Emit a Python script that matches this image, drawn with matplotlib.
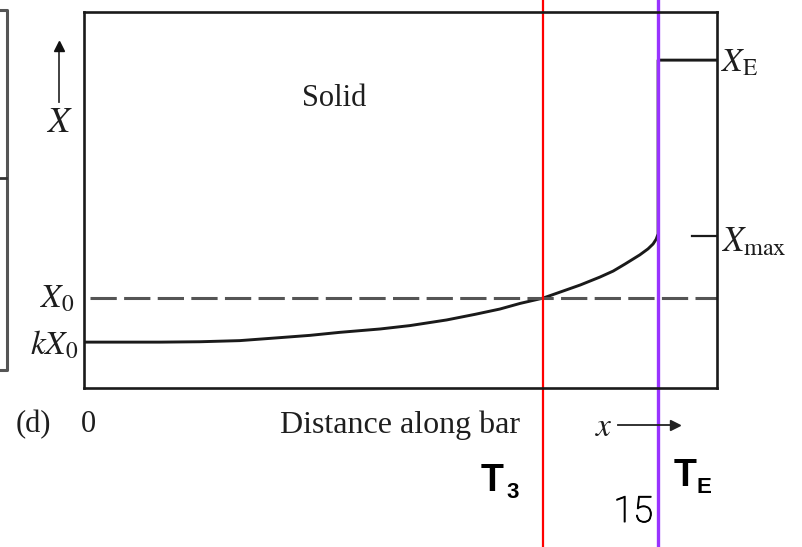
import matplotlib
matplotlib.use("Agg")
import matplotlib.pyplot as plt
from matplotlib.lines import Line2D
import matplotlib.patheffects as pe

plt.rcParams['mathtext.fontset'] = 'stix'

# composition of the solid along the bar (fraction of bar length, relative X)
dist = [0.0, 0.057, 0.120, 0.183, 0.246, 0.310, 0.357, 0.404, 0.468, 0.515,
        0.573, 0.618, 0.657, 0.689, 0.725, 0.752, 0.784, 0.815, 0.836, 0.855,
        0.878, 0.891, 0.899, 0.904, 0.907]
solid_x = [0.122, 0.122, 0.122, 0.123, 0.126, 0.134, 0.140, 0.148, 0.157, 0.166,
           0.181, 0.196, 0.210, 0.225, 0.239, 0.255, 0.274, 0.295, 0.311, 0.330,
           0.354, 0.370, 0.383, 0.396, 0.410]
x_eut = 0.872      # eutectic composition X_E
x0 = 0.239         # initial liquid composition X_0
x_max = 0.405
t3_pos = 0.725
te_pos = 0.907

W, H = 803, 547
fig = plt.figure(figsize=(W / 100, H / 100), dpi=100)
ax = fig.add_axes([84 / W, 1 - 388 / H, (717 - 84) / W, (388 - 12) / H])
ax.set_xlim(0, 1)
ax.set_ylim(0, 1)
ax.set_xticks([])
ax.set_yticks([])
for s in ax.spines.values():
    s.set_linewidth(1.9)
    s.set_color('#1a1a1a')

ink = '#1a1a1a'
ax.plot(dist + [dist[-1], 1.0], solid_x + [x_eut, x_eut], color=ink, lw=2.1,
        solid_joinstyle='round')
ax.plot([0.01, 1.0], [x0, x0], color='#555555', lw=2.2, ls=(0, (8.6, 2.4)))
ax.plot([0.96, 1.0], [x_max, x_max], color=ink, lw=1.6)

# T3 and TE markers through the whole figure
ax.axvline(t3_pos, ymin=-0.5, ymax=1.1, color='#ff0000', lw=1.6, clip_on=False)
ax.axvline(te_pos, ymin=-0.5, ymax=1.1, color='#9933ff', lw=2.4, clip_on=False)


def fx(x):
    return x / W


def fy(y):
    return 1 - y / H


tc = '#1e1e1e'
serif = dict(family='Liberation Serif', color=tc)
ax.text(0.395, 0.77, 'Solid', transform=ax.transAxes, fontsize=22,
        ha='center', va='center', **serif)

fig.text(fx(74), fy(298), r'$X_0$', fontsize=24, ha='right', va='center', color=tc)
fig.text(fx(78), fy(345), r'$kX_0$', fontsize=24, ha='right', va='center', color=tc)
fig.text(fx(721), fy(62), r'$X_{\rm E}$', fontsize=24, ha='left', va='center', color=tc)
fig.text(fx(721), fy(241), r'$X_{\rm max}$', fontsize=25, ha='left', va='center', color=tc)
fig.text(fx(59), fy(122), r'$X$', fontsize=26, ha='center', va='center', color=tc)
fig.add_artist(Line2D([fx(59), fx(59)], [fy(102), fy(50)], color='#333333', lw=1.3))
fig.add_artist(Line2D([fx(59)], [fy(46)], marker='^', ms=7, color='#111111', lw=0))

fig.text(fx(33), fy(425), '(d)', fontsize=22, ha='center', va='center', **serif)
fig.text(fx(88), fy(425), '0', fontsize=22, ha='center', va='center', **serif)
fig.text(fx(400), fy(425), 'Distance along bar', fontsize=23, ha='center', va='center', **serif)
fig.text(fx(604), fy(427), r'$x$', fontsize=24, ha='center', va='center', color=tc)
fig.add_artist(Line2D([fx(618), fx(672)], [fy(425), fy(425)], color='#222222', lw=1.3))
fig.add_artist(Line2D([fx(675)], [fy(425)], marker='>', ms=7, color='#222222', lw=0))

# partial frame of the neighbouring panel
gray = '#555555'
fig.add_artist(Line2D([fx(0), fx(7), fx(7), fx(0)], [fy(10), fy(10), fy(370), fy(370)],
                      color=gray, lw=2.2))
fig.add_artist(Line2D([fx(0), fx(6)], [fy(178), fy(178)], color='#333333', lw=2.0))

sans = dict(family='Liberation Sans', fontweight='bold', color='black')
fig.text(fx(481), fy(491), 'T', fontsize=27, ha='left', va='baseline', **sans)
fig.text(fx(506), fy(498), '3', fontsize=16, ha='left', va='baseline', **sans)
fig.text(fx(674), fy(486), 'T', fontsize=27, ha='left', va='baseline', **sans)
fig.text(fx(697), fy(493), 'E', fontsize=16, ha='left', va='baseline', **sans)
fig.text(fx(653), fy(522), '15', fontsize=26, ha='right', va='baseline',
         family='Roboto', fontweight='light', color='black',
         path_effects=[pe.withStroke(linewidth=0.7, foreground='black')])

fig.savefig('out.png', dpi=100)
